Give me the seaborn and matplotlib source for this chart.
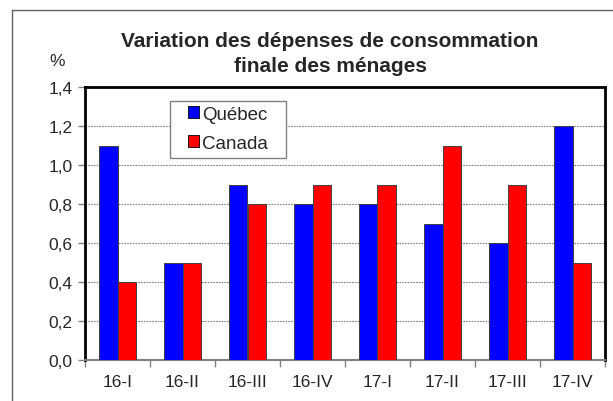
import matplotlib
matplotlib.use("Agg")
import matplotlib.pyplot as plt
import seaborn as sns
import pandas as pd
import numpy as np
from matplotlib.ticker import FuncFormatter, MultipleLocator, FixedLocator
from matplotlib.lines import Line2D
from matplotlib.patches import Rectangle

categories = ["16-I", "16-II", "16-III", "16-IV", "17-I", "17-II", "17-III", "17-IV"]
quebec = [1.1, 0.5, 0.9, 0.8, 0.8, 0.7, 0.6, 1.2]
canada = [0.4, 0.5, 0.8, 0.9, 0.9, 1.1, 0.9, 0.5]
series_names = ["Québec", "Canada"]
title_lines = ["Variation des dépenses de consommation", "finale des ménages"]

df = pd.DataFrame({
    "cat": categories * 2,
    "val": quebec + canada,
    "serie": [series_names[0]] * len(categories) + [series_names[1]] * len(categories),
})

sns.set_style("white")
plt.rcParams["font.family"] = ["Liberation Sans", "DejaVu Sans"]

fig = plt.figure(figsize=(6.13, 4.02), dpi=100)
W, H = 613, 402
ax = fig.add_axes([85 / W, 1 - 361 / H, (605 - 85) / W, (361 - 88) / H])

sns.barplot(data=df, x="cat", y="val", hue="serie", order=categories,
            hue_order=series_names, palette=["#0000FF", "#FF0000"],
            width=0.58, edgecolor="#404040", linewidth=0.7, ax=ax,
            saturation=1, zorder=3)

ax.set_ylim(0, 1.4)
ax.set_xlim(-0.5, len(categories) - 0.5)
ax.yaxis.set_major_locator(MultipleLocator(0.2))
ax.yaxis.set_major_formatter(FuncFormatter(lambda v, p: f"{v:.1f}".replace(".", ",")))
ax.set_xlabel("")
ax.set_ylabel("")

# grid
for y in np.arange(0.2, 1.4, 0.2):
    ax.axhline(y, color="#808080", linestyle=(0, (1.5, 1)), linewidth=0.8, zorder=1)

# spines
for s in ["left", "top", "right"]:
    ax.spines[s].set_color("black")
    ax.spines[s].set_linewidth(2)
ax.spines["bottom"].set_color("#808080")
ax.spines["bottom"].set_linewidth(1.5)

ax.tick_params(axis="y", which="major", direction="out", length=5, width=1,
               color="#808080", labelsize=12.5, pad=4, left=True)
ax.tick_params(axis="x", which="major", length=0, labelsize=12.5, pad=10)
ax.xaxis.set_minor_locator(FixedLocator(np.arange(-0.5, len(categories), 1.0)))
ax.tick_params(axis="x", which="minor", direction="out", length=5, width=1,
               color="#808080", bottom=True)

# legend box (drawn separately to match padding)
box = Rectangle((0.1635, 0.740), 0.3865 - 0.1635, 0.949 - 0.740,
                transform=ax.transAxes, facecolor="white", edgecolor="#808080",
                linewidth=1, zorder=6)
ax.add_patch(box)
leg = ax.legend(loc="center left", bbox_to_anchor=(0.198, 0.847), frameon=False,
                fontsize=13.5, handlelength=0.6, handleheight=0.6,
                handletextpad=0.15, borderpad=0, labelspacing=0.62,
                borderaxespad=0)
leg.set_zorder(7)
for h in leg.legend_handles:
    h.set_edgecolor("black")
    h.set_linewidth(0.6)

fig.text(330 / W, 1 - 47 / H, title_lines[0], ha="center", va="baseline",
         fontsize=15, fontweight="bold")
fig.text(330 / W, 1 - 72 / H, title_lines[1], ha="center", va="baseline",
         fontsize=15, fontweight="bold")
fig.text(57 / W, 1 - 62 / H, "%", ha="center", va="center", fontsize=12.5)

# outer chart frame
fig.add_artist(Line2D([12 / W, 12 / W], [0, 1 - 11 / H], transform=fig.transFigure,
                      color="#606060", linewidth=1))
fig.add_artist(Line2D([12 / W, 1], [1 - 11 / H, 1 - 11 / H], transform=fig.transFigure,
                      color="#606060", linewidth=1))

fig.savefig("out.png", dpi=100)
